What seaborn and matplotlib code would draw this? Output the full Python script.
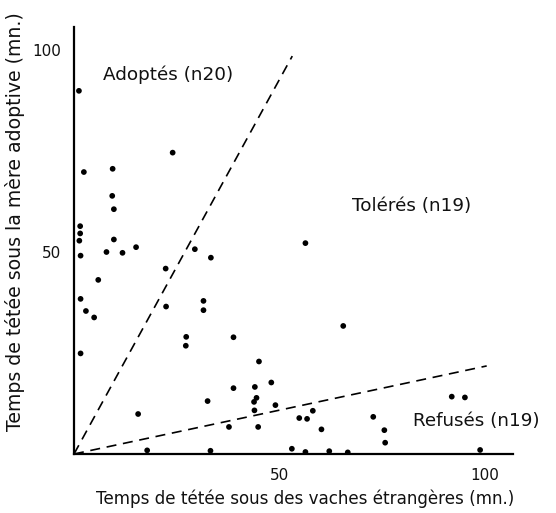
import matplotlib
matplotlib.use("Agg")
import matplotlib.pyplot as plt
import seaborn as sns
import pandas as pd

# --- data ---
foreign_time = [1.2, 2.4, 9.4, 9.3, 9.7, 9.7, 24.0, 1.5, 1.5, 1.3,
                1.6, 7.9, 11.8, 15.1, 5.9, 1.6, 2.9, 4.9, 1.6, 22.3,
                29.4, 33.3, 56.3, 22.4, 31.5, 31.5, 27.3, 27.2, 38.8, 45.0,
                38.8, 48.0, 44.0, 44.4, 43.8, 32.5, 49.0, 65.5, 15.6, 43.9,
                91.9, 95.1, 17.8, 37.7, 44.8, 54.8, 56.7, 33.2, 53.0, 56.3,
                58.1, 60.2, 62.1, 66.6, 72.8, 75.5, 75.7, 98.8]
adoptive_time = [89.9, 69.8, 70.6, 63.9, 60.6, 53.1, 74.6, 56.4, 54.6, 52.8,
                 49.1, 50.0, 49.8, 51.2, 43.1, 38.4, 35.4, 33.8, 24.9, 45.9,
                 50.7, 48.6, 52.2, 36.5, 37.9, 35.6, 29.0, 26.8, 28.9, 22.9,
                 16.3, 17.7, 16.6, 13.9, 12.9, 13.1, 12.1, 31.7, 9.9, 10.8,
                 14.2, 14.0, 0.9, 6.7, 6.7, 8.9, 8.7, 0.8, 1.3, 0.5,
                 10.7, 6.1, 0.7, 0.4, 9.2, 5.9, 2.8, 1.0]

adopt_line_x = [0, 53.1]
adopt_line_y = [0, 98.5]
refuse_line_x = [0, 100.4]
refuse_line_y = [0, 21.8]

group_labels = ["Adoptés (n20)", "Tolérés (n19)", "Refusés (n19)"]
group_label_x = [7.1, 67.6, 82.5]
group_label_y = [93.8, 61.4, 8.2]

tick_values = [10, 20, 30, 40, 50, 60, 70, 80, 90, 100]
tick_labels = ["", "", "", "", "50", "", "", "", "", "100"]

x_title = "Temps de tétée sous des vaches étrangères (mn.)"
y_title = "Temps de tétée sous la mère adoptive (mn.)"

df = pd.DataFrame({"x": foreign_time, "y": adoptive_time})

sns.set_style("white")
plt.rcParams["font.family"] = ["DejaVu Sans"]

fig = plt.figure(figsize=(5.56, 5.13), dpi=100)
ax = fig.add_axes([74 / 556, (513 - 454) / 513, (513 - 74) / 556, (454 - 27) / 513])

sns.scatterplot(data=df, x="x", y="y", ax=ax, color="black", s=17,
                edgecolor="none", zorder=3)
ax.plot(adopt_line_x, adopt_line_y, color="black", lw=1.2, dashes=(6, 4))
ax.plot(refuse_line_x, refuse_line_y, color="black", lw=1.2, dashes=(6, 4))

for t, tx, ty in zip(group_labels, group_label_x, group_label_y):
    ax.text(tx, ty, t, fontsize=13.2, ha="left", va="center", color="#111111")

ax.set_xlim(0, 106.8)
ax.set_ylim(0, 105.7)
ax.set_xticks(tick_values)
ax.set_xticklabels(tick_labels)
ax.set_yticks(tick_values)
ax.set_yticklabels(tick_labels)
ax.tick_params(axis="both", direction="out", length=8, width=1.5,
               color="black", labelsize=11, labelcolor="#111111")
ax.tick_params(axis="x", pad=2)
ax.tick_params(axis="y", pad=1)
ax.set_xlabel("")
ax.set_ylabel("")

for side in ["top", "right"]:
    ax.spines[side].set_visible(False)
for side in ["left", "bottom"]:
    ax.spines[side].set_linewidth(1.6)
    ax.spines[side].set_color("black")

fig.text(305 / 556, 1 - 499 / 513, x_title, ha="center", va="center",
         fontsize=12.1, color="#111111")
fig.text(15 / 556, 1 - 222 / 513, y_title, ha="center", va="center",
         rotation=90, fontsize=13.6, color="#111111")

fig.savefig("out.png", dpi=100)
